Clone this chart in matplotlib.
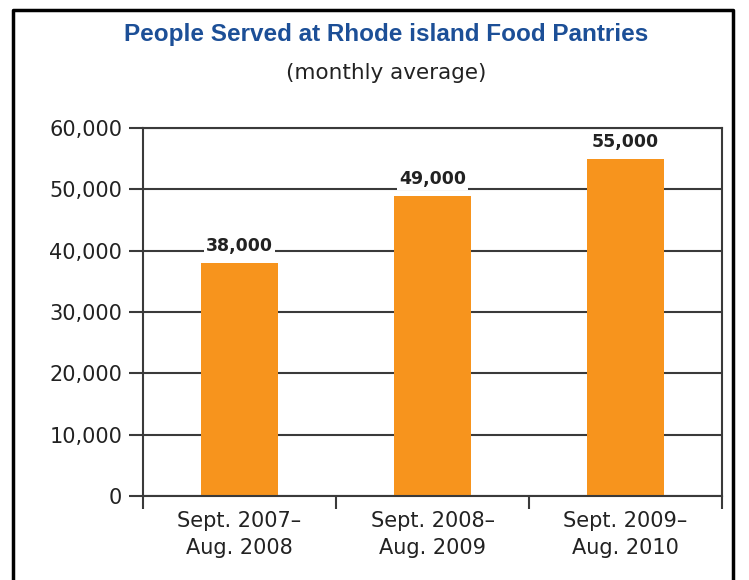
import matplotlib.pyplot as plt
from matplotlib.lines import Line2D
from matplotlib.ticker import FuncFormatter

# data
periods = ["Sept. 2007\u2013\nAug. 2008", "Sept. 2008\u2013\nAug. 2009", "Sept. 2009\u2013\nAug. 2010"]
people = [38000, 49000, 55000]
y_ticks = [0, 10000, 20000, 30000, 40000, 50000, 60000]

bar_color = "#F7941D"
grid_color = "#3a3a3a"
title_color = "#1C4F97"

fig = plt.figure(figsize=(7.49, 5.80), dpi=100)
ax = fig.add_axes([0.191, 0.145, 0.773, 0.634])

x = list(range(len(people)))
ax.bar(x, people, width=0.4, color=bar_color, zorder=2)

ax.set_xlim(-0.5, len(people) - 0.5)
ax.set_ylim(0, 60000)
ax.set_yticks(y_ticks)
ax.yaxis.set_major_formatter(FuncFormatter(lambda v, p: "{:,.0f}".format(v)))
ax.grid(axis="y", color=grid_color, linewidth=1.5, zorder=1)
ax.set_axisbelow(True)

# category boundaries as ticks, labels at bar centres
ax.set_xticks([i - 0.5 for i in range(len(people) + 1)])
ax.set_xticklabels([])
ax.set_xticks(x, minor=True)
ax.set_xticklabels(periods, minor=True, fontsize=15, color="#222222", linespacing=1.4)
ax.tick_params(axis="x", which="major", length=9, width=1.5, color=grid_color)
ax.tick_params(axis="x", which="minor", length=0, pad=11)
ax.tick_params(axis="y", length=10, width=1.5, color=grid_color, labelsize=15, labelcolor="#222222", pad=5)

for s in ax.spines.values():
    s.set_color(grid_color)
    s.set_linewidth(1.5)

# value labels on top of the bars
for xi, v in zip(x, people):
    ax.annotate("{:,}".format(v), (xi, v), xytext=(0, 12), textcoords="offset points",
                ha="center", va="center", fontsize=12.5, fontweight="bold", color="#222222",
                bbox=dict(boxstyle="square,pad=0.1", fc="white", ec="none"), zorder=3)

fig.text(0.515, 0.94, "People Served at Rhode island Food Pantries", ha="center", va="center",
         fontsize=17.5, fontweight="bold", color=title_color,
         family=["Liberation Sans Narrow", "Liberation Sans"])
fig.text(0.515, 0.874, "(monthly average)", ha="center", va="center", fontsize=15.5, color="#222222")

# outer frame (bottom edge falls off the picture)
fig.add_artist(Line2D([0.018, 0.018, 0.979, 0.979], [0.0, 0.983, 0.983, 0.0],
                      transform=fig.transFigure, color="black", linewidth=2.5))

fig.savefig("out.png", dpi=100)
